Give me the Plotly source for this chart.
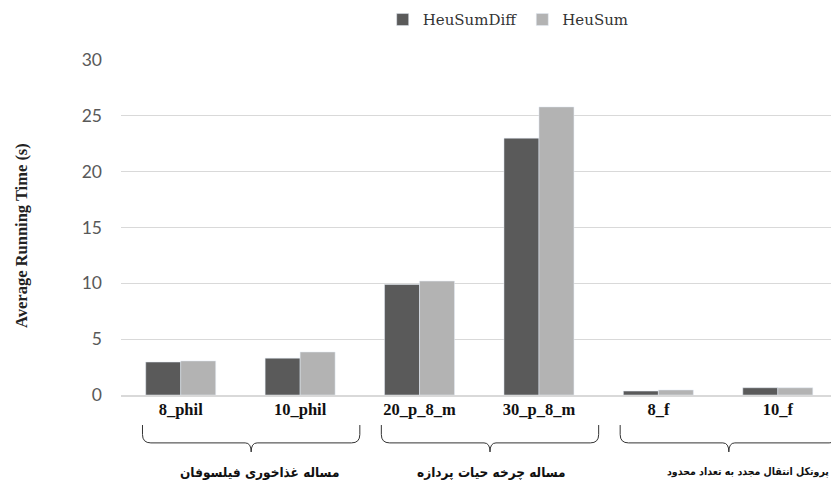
import plotly.graph_objects as go

categories = ["8_phil", "10_phil", "20_p_8_m", "30_p_8_m", "8_f", "10_f"]
heusumdiff = [2.95, 3.3, 9.9, 23.0, 0.35, 0.65]
heusum = [3.05, 3.85, 10.2, 25.8, 0.45, 0.65]
y_ticks = [0, 5, 10, 15, 20, 25, 30]
groups = [
    ("مساله غذاخوری فیلسوفان", 0, 1),
    ("مساله چرخه حیات پردازه", 2, 3),
    ("پروتکل انتقال مجدد به تعداد محدود", 4, 5),
]
label_shift = [0.07, 0.015, 0.157]
label_size = [13.5, 13.5, 10.5]

fig = go.Figure()
fig.add_trace(go.Bar(name="HeuSumDiff", x=categories, y=heusumdiff, marker_color="#5a5a5a"))
fig.add_trace(go.Bar(name="HeuSum", x=categories, y=heusum, marker_color="#b3b3b3"))

serif = "Liberation Serif"
fig.update_layout(
    width=839, height=482,
    margin=dict(l=113, r=9, t=52, b=95, autoexpand=False),
    plot_bgcolor="white", paper_bgcolor="white",
    barmode="group", bargap=0.414, bargroupgap=0,
    showlegend=True,
    legend=dict(orientation="h", x=0.54, xanchor="center", y=1.12, yanchor="middle",
                font=dict(family="DejaVu Serif", size=15, color="#333333"),
                traceorder="normal"),
    xaxis=dict(showgrid=False, showline=True, linecolor="#d9d9d9", linewidth=2,
               ticks="", tickfont=dict(family=serif, size=16.5, color="#111111", weight="bold"),
               ticklabelstandoff=-2, fixedrange=True),
    yaxis=dict(range=[0, 30], tickvals=y_ticks, showgrid=True, gridcolor="#d9d9d9",
               gridwidth=1, zeroline=False, showline=False, ticks="",
               tickfont=dict(family="Lato", size=17.5, color="#595959"),
               ticklabelstandoff=18, fixedrange=True),
)

fig.add_annotation(text="<b>Average Running Time (s)</b>", textangle=-90,
                   xref="paper", yref="paper", x=-0.138, y=0.475,
                   xanchor="center", yanchor="middle",
                   showarrow=False, font=dict(family=serif, size=16.5, color="#222222"))

y_top, y_h, y_spike = -0.0896, -0.143, -0.170
r = 0.07
for (label, a, b), dx, fs in zip(groups, label_shift, label_size):
    x0 = a - 0.32
    x1 = b + 0.5
    xm = (a + b) / 2 + 0.09
    path = (f"M {x0},{y_top} L {x0},{y_h + 0.025} Q {x0},{y_h} {x0 + r},{y_h} "
            f"L {xm - 0.05},{y_h} Q {xm},{y_h} {xm},{y_spike} "
            f"Q {xm},{y_h} {xm + 0.05},{y_h} "
            f"L {x1 - r},{y_h} Q {x1},{y_h} {x1},{y_h + 0.025} L {x1},{y_top}")
    fig.add_shape(type="path", path=path, xref="x", yref="paper",
                  line=dict(color="#333333", width=1))
    fig.add_annotation(text=f"<b>{label}</b>", xref="x", yref="paper",
                       x=xm + dx, y=-0.229, xanchor="center", yanchor="middle",
                       showarrow=False,
                       font=dict(family="DejaVu Sans Condensed", size=fs, color="#111111"))

fig.write_html("out.html")
